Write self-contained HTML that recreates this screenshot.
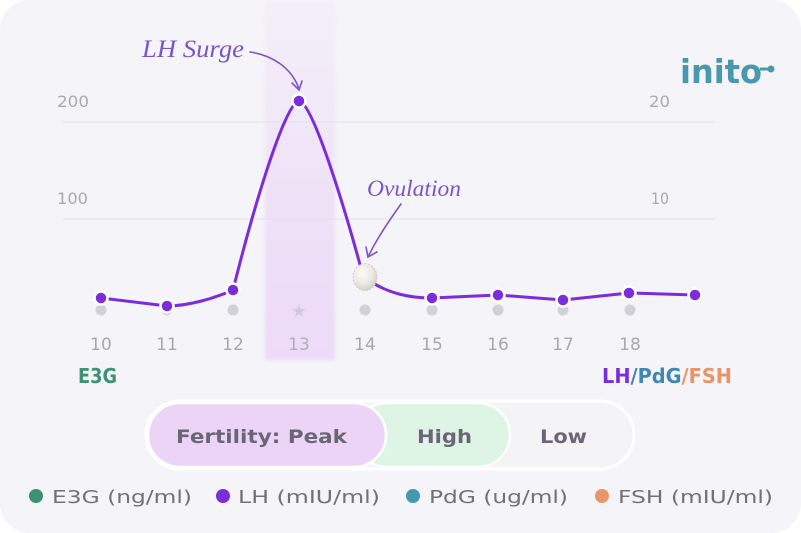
<!DOCTYPE html>
<html><head><meta charset="utf-8"><style>
html,body{margin:0;padding:0;background:#fff;}
svg{display:block;}
</style></head><body>
<svg width="801" height="533" viewBox="0 0 801 533" xmlns="http://www.w3.org/2000/svg">
<defs>
<linearGradient id="band" x1="0" y1="0" x2="0" y2="1">
<stop offset="0" stop-color="#efe2f7" stop-opacity="0.3"/>
<stop offset="0.5" stop-color="#ecd9f6" stop-opacity="0.65"/>
<stop offset="1" stop-color="#eddaf7" stop-opacity="1"/>
</linearGradient>
<filter id="soft" x="-10%" y="-5%" width="120%" height="110%"><feGaussianBlur stdDeviation="1.5"/></filter>
<radialGradient id="egg" cx="0.4" cy="0.35" r="0.7">
<stop offset="0" stop-color="#fbfaf6"/>
<stop offset="0.6" stop-color="#ebe9e2"/>
<stop offset="1" stop-color="#cfccc4"/>
</radialGradient>
</defs>
<rect x="0" y="0" width="801" height="533" fill="#ffffff"/>
<rect x="0" y="0" width="801" height="533" rx="30" fill="#f5f4f9"/>

<!-- peak band -->
<rect x="265" y="0" width="70" height="360" fill="url(#band)" filter="url(#soft)"/>

<!-- grid -->
<line x1="63" y1="122" x2="714" y2="122" stroke="#e3e1e8" stroke-width="1"/>
<line x1="63" y1="219" x2="714" y2="219" stroke="#e3e1e8" stroke-width="1"/>

<g font-family="DejaVu Sans, Liberation Sans, sans-serif" fill="#aaaaae" font-size="16">
<text x="57" y="107" textLength="32" lengthAdjust="spacingAndGlyphs">200</text>
<text x="57" y="204" textLength="31" lengthAdjust="spacingAndGlyphs">100</text>
<text x="649" y="107" textLength="21" lengthAdjust="spacingAndGlyphs">20</text>
<text x="651" y="204" textLength="18" lengthAdjust="spacingAndGlyphs">10</text>
</g>

<!-- annotations -->
<g font-family="Liberation Serif, serif" font-style="italic" fill="#7a55c8">
<text x="142" y="57" font-size="25" textLength="102" lengthAdjust="spacingAndGlyphs">LH Surge</text>
<text x="367" y="196" font-size="23" textLength="94" lengthAdjust="spacingAndGlyphs">Ovulation</text>
</g>
<g fill="none" stroke="#7a55c8" stroke-width="1.6" stroke-linecap="round">
<path d="M250,52 C272,55 292,68 299,89"/>
<path d="M292,83 L299,90 L302,81"/>
<path d="M401,204 C388,222 376,240 368,257"/>
<path d="M366,247 L368,257 L377,252"/>
</g>

<!-- logo -->
<g fill="#4a98ae">
<text x="680" y="83" font-family="DejaVu Sans, Liberation Sans, sans-serif" font-size="33" font-weight="bold" textLength="82" lengthAdjust="spacingAndGlyphs">inito</text>
<line x1="760" y1="69" x2="769" y2="69" stroke="#4a98ae" stroke-width="3"/>
<circle cx="771" cy="69" r="3.5"/>
</g>

<!-- gray dots -->
<g fill="#d2d1d9">
<circle cx="101" cy="310" r="5.5"/>
<circle cx="167" cy="310" r="5.5"/>
<circle cx="233" cy="310" r="5.5"/>
<circle cx="365" cy="310" r="5.5"/>
<circle cx="432" cy="310" r="5.5"/>
<circle cx="498" cy="310" r="5.5"/>
<circle cx="563" cy="310" r="5.5"/>
<circle cx="630" cy="310" r="5.5"/>
</g>
<text x="299" y="317" text-anchor="middle" font-family="DejaVu Sans, sans-serif" font-size="18" fill="#cdcbe0">★</text>

<!-- LH line -->
<g fill="none" stroke="#7b2ddb" stroke-width="3" stroke-linecap="round" stroke-linejoin="round">
<path d="M101,298 L167,306 C189,306 215,298 233,290 C258,190 287,101 299,101 C313,101 348,220 362,272"/>
<path d="M365,278 C388,294 410,298 432,298 L498,295 L563,300 L629,293 L695,295"/>
</g>
<g fill="#7b2ddb" stroke="#ffffff" stroke-width="2.5">
<circle cx="101" cy="298" r="6.5"/>
<circle cx="167" cy="306" r="6.5"/>
<circle cx="233" cy="290" r="6.5"/>
<circle cx="299" cy="101" r="6.5"/>
<circle cx="432" cy="298" r="6.5"/>
<circle cx="498" cy="295" r="6.5"/>
<circle cx="563" cy="300" r="6.5"/>
<circle cx="629" cy="293" r="6.5"/>
<circle cx="695" cy="295" r="6.5"/>
</g>
<ellipse cx="365" cy="277" rx="12" ry="13.5" fill="url(#egg)" stroke="#c8c6be" stroke-width="0.8" stroke-dasharray="2 1.5"/>

<!-- x labels -->
<g font-family="DejaVu Sans, Liberation Sans, sans-serif" fill="#a8a8ad" font-size="17" text-anchor="middle">
<text x="101" y="350">10</text>
<text x="167" y="350">11</text>
<text x="233" y="350">12</text>
<text x="299" y="350" fill="#b3aebb">13</text>
<text x="365" y="350">14</text>
<text x="432" y="350">15</text>
<text x="498" y="350">16</text>
<text x="563" y="350">17</text>
<text x="630" y="350">18</text>
</g>

<!-- axis titles -->
<text x="78" y="383" font-family="DejaVu Sans, Liberation Sans, sans-serif" font-size="20" font-weight="bold" fill="#3c9273" textLength="39" lengthAdjust="spacingAndGlyphs">E3G</text>
<text x="602" y="383" font-family="DejaVu Sans, Liberation Sans, sans-serif" font-size="20" font-weight="bold" textLength="130" lengthAdjust="spacingAndGlyphs"><tspan fill="#7b2ddb">LH</tspan><tspan fill="#3f86b2">/PdG</tspan><tspan fill="#e8946a">/FSH</tspan></text>

<!-- fertility pill -->
<rect x="146" y="401" width="488" height="68" rx="34" fill="#f4f4f7" stroke="#ffffff" stroke-width="3"/>
<rect x="355" y="403" width="155" height="64" rx="32" fill="#def5e5" stroke="#ffffff" stroke-width="2.5"/>
<rect x="148" y="403" width="238" height="64" rx="32" fill="#ecd4f7" stroke="#ffffff" stroke-width="2.5"/>
<g font-family="DejaVu Sans, Liberation Sans, sans-serif" font-size="19" font-weight="bold" fill="#6b6577">
<text x="176" y="443" textLength="171" lengthAdjust="spacingAndGlyphs">Fertility: Peak</text>
<text x="417" y="443" textLength="55" lengthAdjust="spacingAndGlyphs">High</text>
<text x="540" y="443" textLength="47" lengthAdjust="spacingAndGlyphs">Low</text>
</g>

<!-- legend -->
<circle cx="36" cy="496" r="7" fill="#3c9273"/>
<circle cx="223" cy="496" r="7" fill="#7b2ddb"/>
<circle cx="413" cy="496" r="7" fill="#4499b2"/>
<circle cx="602" cy="496" r="7" fill="#e8956a"/>
<g font-family="DejaVu Sans, Liberation Sans, sans-serif" font-size="18" fill="#727275">
<text x="52" y="503" textLength="140" lengthAdjust="spacingAndGlyphs">E3G (ng/ml)</text>
<text x="238" y="503" textLength="142" lengthAdjust="spacingAndGlyphs">LH (mIU/ml)</text>
<text x="429" y="503" textLength="139" lengthAdjust="spacingAndGlyphs">PdG (ug/ml)</text>
<text x="618" y="503" textLength="155" lengthAdjust="spacingAndGlyphs">FSH (mIU/ml)</text>
</g>
</svg>
</body></html>
